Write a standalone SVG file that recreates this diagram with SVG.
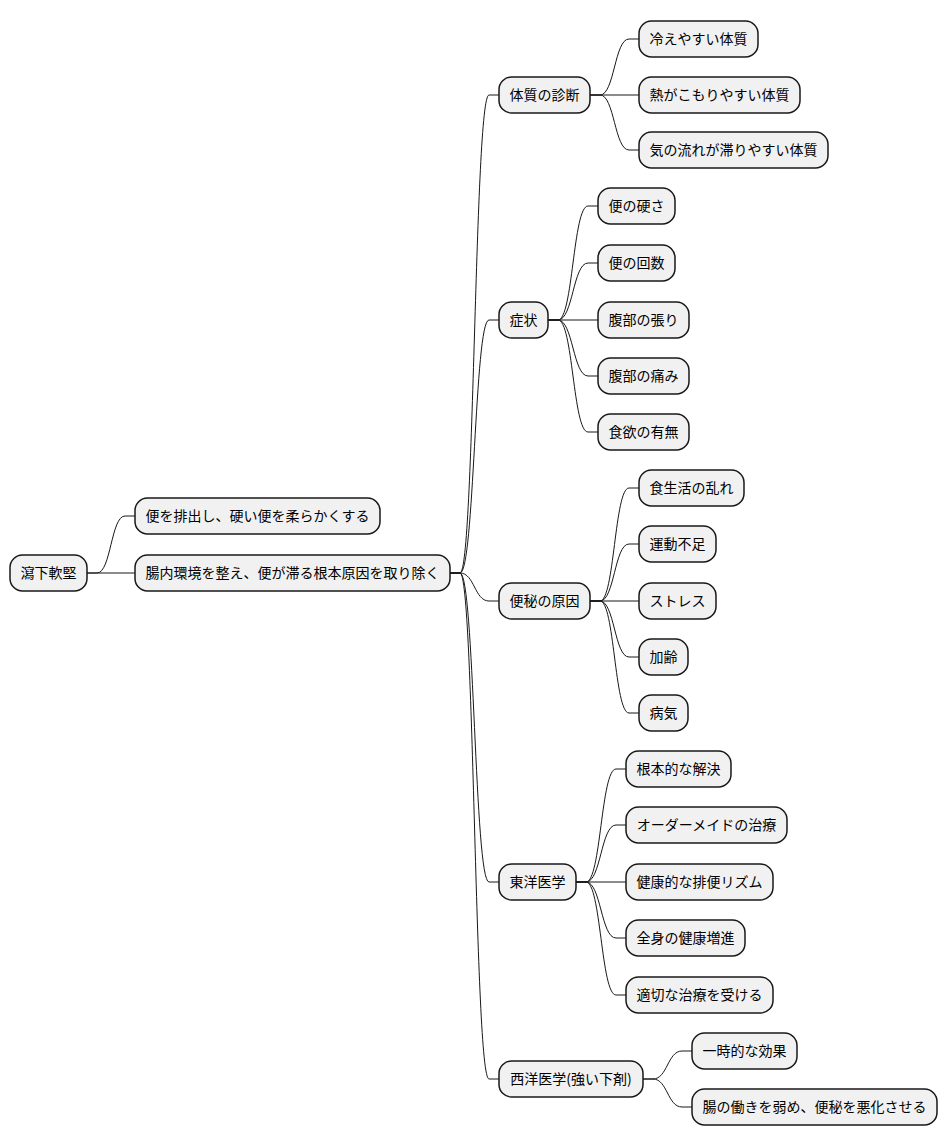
<svg xmlns="http://www.w3.org/2000/svg" width="947" height="1146" viewBox="0 0 947 1146">
<style>
.n rect{fill:#F1F1F1;stroke:#181818;stroke-width:1.5}
.n text{font-family:"Noto Sans CJK JP","Noto Sans CJK SC",sans-serif;font-size:14px;fill:#000;text-anchor:middle}
#connectors path{fill:none;stroke:#181818;stroke-width:1}
</style>
<rect width="947" height="1146" fill="#FFFFFF"/>
<g id="connectors">
<path d="M87 573 L97 573 C111 573 111 516 125 516 L135 516"/>
<path d="M87 573 L135 573"/>
<path d="M450 573 L460 573 C474.5 573 474.5 95 489 95 L499 95"/>
<path d="M450 573 L460 573 C474.5 573 474.5 320 489 320 L499 320"/>
<path d="M450 573 L460 573 C474.5 573 474.5 601 489 601 L499 601"/>
<path d="M450 573 L460 573 C474.5 573 474.5 882 489 882 L499 882"/>
<path d="M450 573 L460 573 C474.5 573 474.5 1079 489 1079 L499 1079"/>
<path d="M590 95 L600 95 C614.5 95 614.5 39 629 39 L639 39"/>
<path d="M590 95 L639 95"/>
<path d="M590 95 L600 95 C614.5 95 614.5 150 629 150 L639 150"/>
<path d="M548 320 L558 320 C573 320 573 206 588 206 L598 206"/>
<path d="M548 320 L558 320 C573 320 573 263 588 263 L598 263"/>
<path d="M548 320 L598 320"/>
<path d="M548 320 L558 320 C573 320 573 376 588 376 L598 376"/>
<path d="M548 320 L558 320 C573 320 573 432 588 432 L598 432"/>
<path d="M590 601 L600 601 C614.5 601 614.5 488 629 488 L639 488"/>
<path d="M590 601 L600 601 C614.5 601 614.5 544 629 544 L639 544"/>
<path d="M590 601 L639 601"/>
<path d="M590 601 L600 601 C614.5 601 614.5 657 629 657 L639 657"/>
<path d="M590 601 L600 601 C614.5 601 614.5 713 629 713 L639 713"/>
<path d="M576 882 L586 882 C601 882 601 769 616 769 L626 769"/>
<path d="M576 882 L586 882 C601 882 601 825 616 825 L626 825"/>
<path d="M576 882 L626 882"/>
<path d="M576 882 L586 882 C601 882 601 938 616 938 L626 938"/>
<path d="M576 882 L586 882 C601 882 601 995 616 995 L626 995"/>
<path d="M643 1079 L653 1079 C667.5 1079 667.5 1051 682 1051 L692 1051"/>
<path d="M643 1079 L653 1079 C667.5 1079 667.5 1107 682 1107 L692 1107"/>
</g>
<g id="root" class="n"><rect x="10" y="555" width="77" height="36" rx="12.5"/><text x="48.5" y="578">瀉下軟堅</text></g>
<g id="n1" class="n"><rect x="135" y="498" width="245" height="36" rx="12.5"/><text x="257.5" y="521">便を排出し、硬い便を柔らかくする</text></g>
<g id="n2" class="n"><rect x="135" y="555" width="315" height="36" rx="12.5"/><text x="292.5" y="578">腸内環境を整え、便が滞る根本原因を取り除く</text></g>
<g id="n3" class="n"><rect x="499" y="77" width="91" height="36" rx="12.5"/><text x="544.5" y="100">体質の診断</text></g>
<g id="n3a" class="n"><rect x="639" y="21" width="119" height="36" rx="12.5"/><text x="698.5" y="44">冷えやすい体質</text></g>
<g id="n3b" class="n"><rect x="639" y="77" width="161" height="36" rx="12.5"/><text x="719.5" y="100">熱がこもりやすい体質</text></g>
<g id="n3c" class="n"><rect x="639" y="132" width="189" height="36" rx="12.5"/><text x="733.5" y="155">気の流れが滞りやすい体質</text></g>
<g id="n4" class="n"><rect x="499" y="302" width="49" height="36" rx="12.5"/><text x="523.5" y="325">症状</text></g>
<g id="n4a" class="n"><rect x="598" y="188" width="77" height="36" rx="12.5"/><text x="636.5" y="211">便の硬さ</text></g>
<g id="n4b" class="n"><rect x="598" y="245" width="77" height="36" rx="12.5"/><text x="636.5" y="268">便の回数</text></g>
<g id="n4c" class="n"><rect x="598" y="302" width="91" height="36" rx="12.5"/><text x="643.5" y="325">腹部の張り</text></g>
<g id="n4d" class="n"><rect x="598" y="358" width="91" height="36" rx="12.5"/><text x="643.5" y="381">腹部の痛み</text></g>
<g id="n4e" class="n"><rect x="598" y="414" width="91" height="36" rx="12.5"/><text x="643.5" y="437">食欲の有無</text></g>
<g id="n5" class="n"><rect x="499" y="583" width="91" height="36" rx="12.5"/><text x="544.5" y="606">便秘の原因</text></g>
<g id="n5a" class="n"><rect x="639" y="470" width="105" height="36" rx="12.5"/><text x="691.5" y="493">食生活の乱れ</text></g>
<g id="n5b" class="n"><rect x="639" y="526" width="77" height="36" rx="12.5"/><text x="677.5" y="549">運動不足</text></g>
<g id="n5c" class="n"><rect x="639" y="583" width="77" height="36" rx="12.5"/><text x="677.5" y="606">ストレス</text></g>
<g id="n5d" class="n"><rect x="639" y="639" width="49" height="36" rx="12.5"/><text x="663.5" y="662">加齢</text></g>
<g id="n5e" class="n"><rect x="639" y="695" width="49" height="36" rx="12.5"/><text x="663.5" y="718">病気</text></g>
<g id="n6" class="n"><rect x="499" y="864" width="77" height="36" rx="12.5"/><text x="537.5" y="887">東洋医学</text></g>
<g id="n6a" class="n"><rect x="626" y="751" width="105" height="36" rx="12.5"/><text x="678.5" y="774">根本的な解決</text></g>
<g id="n6b" class="n"><rect x="626" y="807" width="161" height="36" rx="12.5"/><text x="706.5" y="830">オーダーメイドの治療</text></g>
<g id="n6c" class="n"><rect x="626" y="864" width="147" height="36" rx="12.5"/><text x="699.5" y="887">健康的な排便リズム</text></g>
<g id="n6d" class="n"><rect x="626" y="920" width="119" height="36" rx="12.5"/><text x="685.5" y="943">全身の健康増進</text></g>
<g id="n6e" class="n"><rect x="626" y="977" width="147" height="36" rx="12.5"/><text x="699.5" y="1000">適切な治療を受ける</text></g>
<g id="n7" class="n"><rect x="499" y="1061" width="144" height="36" rx="12.5"/><text x="571" y="1084">西洋医学(強い下剤)</text></g>
<g id="n7a" class="n"><rect x="692" y="1033" width="105" height="36" rx="12.5"/><text x="744.5" y="1056">一時的な効果</text></g>
<g id="n7b" class="n"><rect x="692" y="1089" width="245" height="36" rx="12.5"/><text x="814.5" y="1112">腸の働きを弱め、便秘を悪化させる</text></g>
</svg>
